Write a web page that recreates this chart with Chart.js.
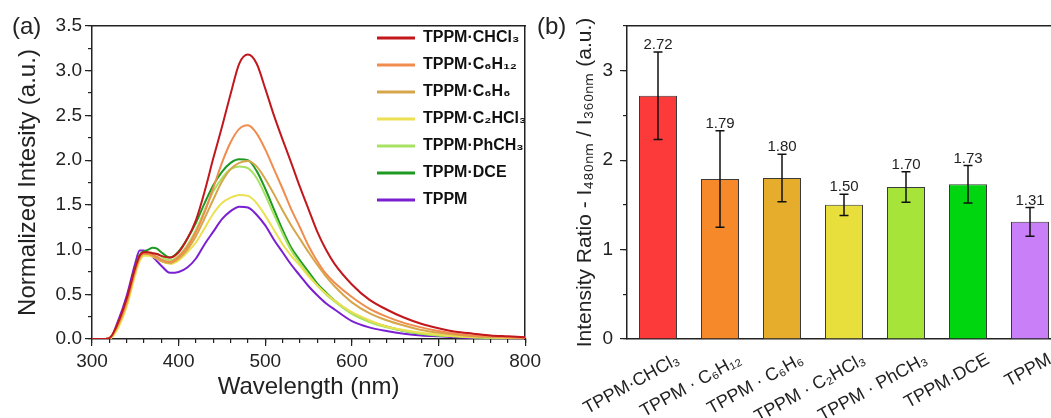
<!DOCTYPE html>
<html><head><meta charset="utf-8">
<script src="https://cdn.jsdelivr.net/npm/chart.js@4.4.1/dist/chart.umd.min.js"></script>
<style>
html,body{margin:0;padding:0;width:1051px;height:418px;overflow:hidden;background:#fff;}
#wrapA{position:absolute;left:0;top:0;width:545px;height:418px;}
#wrapB{position:absolute;left:530px;top:0;width:531px;height:418px;}
.panel{position:absolute;font:24px 'Liberation Sans',Arial,sans-serif;color:#222;line-height:24px;}
</style></head><body>
<div id="wrapA"><canvas id="cA" width="545" height="418"></canvas></div>
<div id="wrapB"><canvas id="cB" width="531" height="418"></canvas></div>
<div class="panel" style="left:12px;top:14px">(a)</div>
<div class="panel" style="left:537px;top:14px">(b)</div>
<script>
// ---------- Panel (a) data ----------
const wavelengths = [300,310,320,330,340,350,355,360,365,370,375,380,390,400,410,420,430,440,450,460,470,480,490,500,510,520,530,540,550,560,570,580,600,620,640,660,680,700,720,740,760,780,800];
const seriesNames = ['TPPM·CHCl₃','TPPM·C₆H₁₂','TPPM·C₆H₆','TPPM·C₂HCl₃','TPPM·PhCH₃','TPPM·DCE','TPPM'];
const chcl3 = [0,0,0.01,0.18,0.45,0.8, 0.93,0.97,0.97,0.96,0.95,0.93, 0.91,0.97,1.12,1.33,1.65,2.02,2.37,2.74,3.08,3.18,3.08,2.8, 2.5,2.23,1.97,1.7,1.45,1.2,1.0,0.84, 0.61,0.44,0.33,0.24,0.17,0.12,0.08,0.06,0.04,0.03,0.02];
const c6h12 = [0,0,0.01,0.17,0.42,0.78, 0.92,0.96,0.95,0.94,0.92,0.89, 0.86,0.92,1.03,1.2,1.42,1.69,1.97,2.2,2.35,2.39,2.3,2.12, 1.9,1.68,1.45,1.25,1.04,0.87,0.73,0.63, 0.47,0.34,0.25,0.18,0.13,0.09,0.06,0.04,0.03,0.02,0.01];
const c6h6  = [0,0,0.01,0.15,0.4,0.76, 0.9,0.95,0.95,0.93,0.9,0.87, 0.85,0.9,1.0,1.15,1.35,1.56,1.76,1.9,1.97,1.99,1.93,1.79, 1.62,1.44,1.27,1.12,0.97,0.83,0.7,0.59, 0.41,0.29,0.21,0.15,0.1,0.07,0.05,0.03,0.02,0.02,0.01];
const c2hcl3 = [0,0,0,0.12,0.36,0.72, 0.87,0.93,0.93,0.92,0.9,0.87, 0.84,0.88,0.97,1.08,1.24,1.4,1.52,1.58,1.61,1.6,1.52,1.38, 1.22,1.06,0.93,0.82,0.7,0.6,0.51,0.43, 0.3,0.21,0.14,0.1,0.07,0.05,0.03,0.02,0.02,0.01,0.01];
const phch3 = [0,0,0.01,0.15,0.4,0.76, 0.9,0.95,0.96,0.96,0.95,0.92, 0.88,0.93,1.05,1.22,1.44,1.65,1.8,1.9,1.93,1.91,1.8,1.61, 1.39,1.18,0.99,0.85,0.72,0.6,0.5,0.42, 0.28,0.19,0.13,0.09,0.06,0.04,0.03,0.02,0.01,0.01,0.01];
const dce   = [0,0,0.01,0.17,0.42,0.8, 0.94,0.98,1.0,1.02,1.01,0.97, 0.91,0.98,1.12,1.3,1.52,1.72,1.87,1.97,2.01,2.0,1.88,1.68, 1.45,1.22,1.02,0.88,0.75,0.62,0.52,0.43, 0.29,0.2,0.14,0.09,0.06,0.04,0.03,0.02,0.01,0.01,0.01];
const tppm  = [0,0,0,0.2,0.48,0.85, 0.99,0.99,0.96,0.92,0.87,0.82, 0.74,0.75,0.8,0.9,1.06,1.2,1.34,1.43,1.48,1.47,1.39,1.27, 1.11,0.97,0.83,0.71,0.59,0.49,0.4,0.33, 0.2,0.13,0.09,0.06,0.04,0.03,0.02,0.01,0.01,0.01,0.0];
const spectra = [chcl3, c6h12, c6h6, c2hcl3, phch3, dce, tppm];
const lineColors = ['#c1171d','#f08c4e','#d6a64a','#ebe052','#a9e262','#1e9a22','#7a20d2'];

// ---------- Panel (b) data ----------
const barLabels = ['TPPM·CHCl₃','TPPM · C₆H₁₂','TPPM · C₆H₆','TPPM · C₂HCl₃','TPPM · PhCH₃','TPPM·DCE','TPPM'];
const ratios   = [2.72,1.79,1.80,1.50,1.70,1.73,1.31];
const ratioErr = [0.49,0.54,0.265,0.12,0.17,0.21,0.16];
const barColors = ['#fd3a3a','#f6892a','#e6ad2d','#e8df3c','#a6e43a','#00d60f','#c87ff7'];

Chart.defaults.font.family = "'Liberation Sans', Arial, sans-serif";
Chart.defaults.color = '#222';

const tickGrid = (len) => ({display:true, drawOnChartArea:false, drawTicks:true, tickLength:len, color:'#222', lineWidth:1.2});
const axisBorder = {display:true, color:'#222', width:1.5};

const legendMover = {
  id:'legendMover',
  afterLayout(chart) {
    const L = chart.legend; if (!L) return;
    const ca = chart.chartArea;
    L.left = 366; L.top = 19; L.right = ca.right; L.bottom = ca.bottom;
    L.width = L.right - L.left; L.height = L.bottom - L.top;
  }
};

new Chart(document.getElementById('cA'), {
  type:'line',
  data:{datasets: spectra.map((s,i)=>({
    label: seriesNames[i],
    data: wavelengths.map((w,j)=>({x:w, y:s[j]})),
    borderColor: lineColors[i], backgroundColor: lineColors[i],
    borderWidth: 2, pointRadius: 0, cubicInterpolationMode:'monotone', fill:false,
    xAxisID:'x', yAxisID:'y'
  }))},
  options:{
    responsive:false, animation:false, devicePixelRatio:1,
    layout:{padding:{top:26, right:18, left:0, bottom:0}},
    plugins:{
      legend:{position:'chartArea', align:'start',
        labels:{boxWidth:38, boxHeight:3, padding:11, color:'#111', font:{size:16, weight:'bold'},
          generateLabels: c => Chart.defaults.plugins.legend.labels.generateLabels(c).map(l => Object.assign(l, {lineWidth:0}))}},
      tooltip:{enabled:false}
    },
    scales:{
      x:{type:'linear', position:'bottom', min:300, max:800,
        ticks:{stepSize:100, padding:4, font:{size:19}, color:'#222'},
        grid: tickGrid(7), border: axisBorder,
        title:{display:true, text:'Wavelength (nm)', font:{size:24}, color:'#222', padding:{top:0, bottom:16}},
        afterFit: s => { s.height = 79; }},
      xMinor:{type:'linear', position:'bottom', weight:-1, min:300, max:800,
        ticks:{stepSize:20, display:false}, grid: tickGrid(4), border:{display:false},
        afterFit: s => { s.height = 0; }},
      xTop:{type:'linear', position:'top', min:300, max:800,
        ticks:{display:false}, grid:{display:false, drawTicks:false}, border: axisBorder,
        afterFit: s => { s.height = 0; }},
      y:{type:'linear', position:'left', min:0, max:3.5,
        ticks:{stepSize:0.5, padding:3, font:{size:19}, color:'#222', callback: v => Number(v).toFixed(1)},
        grid: tickGrid(7), border: axisBorder,
        title:{display:true, text:'Normalized Intesity (a.u.)', font:{size:24}, color:'#222', padding:{top:14, bottom:0}},
        afterFit: s => { s.width = 92; }},
      yMinor:{type:'linear', position:'left', weight:-1, min:0, max:3.5,
        ticks:{stepSize:0.25, display:false}, grid: tickGrid(4), border:{display:false},
        afterFit: s => { s.width = 0; }},
      yRight:{type:'linear', position:'right', min:0, max:3.5,
        ticks:{display:false}, grid:{display:false, drawTicks:false}, border: axisBorder,
        afterFit: s => { s.width = 0; }}
    }
  },
  plugins:[legendMover]
});

const errorBarPlugin = {
  id:'errbars',
  afterDatasetsDraw(chart) {
    const ctx = chart.ctx, y = chart.scales.y;
    const meta = chart.getDatasetMeta(0);
    ctx.save();
    ctx.strokeStyle = '#111'; ctx.lineWidth = 1.5; ctx.fillStyle = '#222';
    ctx.font = "15px 'Liberation Sans', Arial, sans-serif";
    ctx.textAlign = 'center'; ctx.textBaseline = 'alphabetic';
    meta.data.forEach((bar, i) => {
      const x = bar.x;
      const yt = y.getPixelForValue(ratios[i] + ratioErr[i]);
      const yb = y.getPixelForValue(ratios[i] - ratioErr[i]);
      ctx.beginPath();
      ctx.moveTo(x, yt); ctx.lineTo(x, yb);
      ctx.moveTo(x - 4.5, yt); ctx.lineTo(x + 4.5, yt);
      ctx.moveTo(x - 4.5, yb); ctx.lineTo(x + 4.5, yb);
      ctx.stroke();
      ctx.fillText(ratios[i].toFixed(2), x, yt - 3);
    });
    ctx.restore();
  }
};

new Chart(document.getElementById('cB'), {
  type:'bar',
  data:{labels: barLabels, datasets:[{data: ratios, backgroundColor: barColors, borderColor:'#3a3a3a', borderWidth:1,
    barPercentage:0.613, categoryPercentage:1, xAxisID:'x', yAxisID:'y'}]},
  options:{
    responsive:false, animation:false, devicePixelRatio:1,
    layout:{padding:{top:26, right:0, left:0, bottom:0}},
    plugins:{legend:{display:false}, tooltip:{enabled:false}},
    scales:{
      x:{type:'category', position:'bottom',
        grid:{display:false, drawTicks:false}, border: axisBorder,
        ticks:{autoSkip:false, maxRotation:29, minRotation:29, padding:10, labelOffset:20, font:{size:18}, color:'#222'},
        afterFit: s => { s.height = 79; }},
      xTop:{type:'linear', position:'top', min:0, max:1,
        ticks:{display:false}, grid:{display:false, drawTicks:false}, border: axisBorder,
        afterFit: s => { s.height = 0; }},
      y:{type:'linear', position:'left', min:0, max:3.5,
        ticks:{stepSize:1, includeBounds:false, padding:7, font:{size:19}, color:'#222'},
        grid: tickGrid(7), border: axisBorder,
        title:{display:true, text:'Intensity Ratio - I₄₈₀ₙₘ / I₃₆₀ₙₘ (a.u.)', font:{size:21}, color:'#222', padding:{top:43, bottom:0}},
        afterFit: s => { s.width = 97; }},
      yMinor:{type:'linear', position:'left', weight:-1, min:0, max:3.5,
        ticks:{stepSize:0.5, display:false}, grid: tickGrid(4), border:{display:false},
        afterFit: s => { s.width = 0; }}
    }
  },
  plugins:[errorBarPlugin]
});
</script>
</body></html>
